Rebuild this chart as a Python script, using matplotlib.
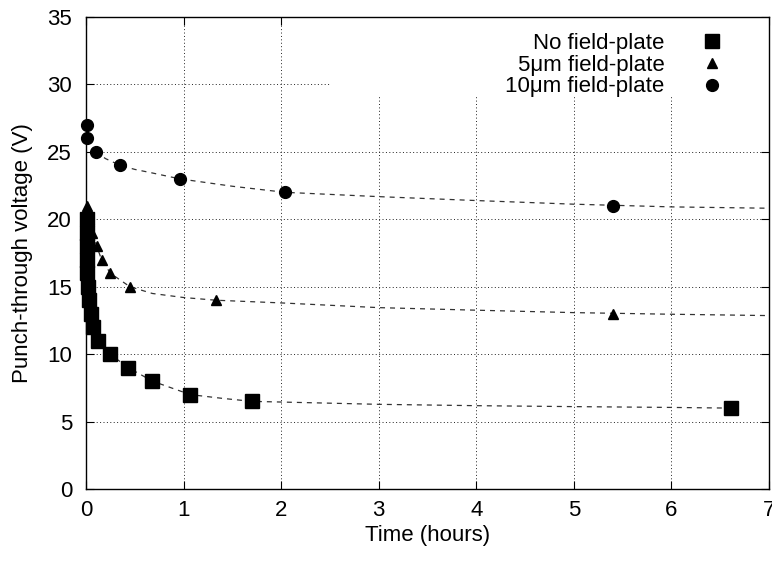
import matplotlib
matplotlib.use("Agg")
import matplotlib.pyplot as plt
from matplotlib.patches import Rectangle

plt.rcParams['font.family'] = ['Liberation Sans', 'DejaVu Sans']

# Measured punch-through voltage vs. stress time
t_none = [0.010, 0.011, 0.012, 0.013, 0.015, 0.024, 0.034, 0.048, 0.068,
          0.126, 0.246, 0.434, 0.68, 1.07, 1.70, 6.61]
v_none = [20, 19, 18, 17, 16, 15, 14, 13, 12, 11, 10, 9, 8, 7, 6.5, 6]

t_fp5 = [0.010, 0.030, 0.065, 0.11, 0.16, 0.25, 0.45, 1.33, 5.40]
v_fp5 = [21, 20, 19, 18, 17, 16, 15, 14, 13]

t_fp10 = [0.010, 0.012, 0.10, 0.35, 0.96, 2.04, 5.40]
v_fp10 = [27, 26, 25, 24, 23, 22, 21]

# Fitted trend curves
fit_t_none = [0.068, 0.126, 0.246, 0.434, 0.68, 1.07, 1.4, 1.70, 2.0, 3, 4, 5, 6, 6.61]
fit_v_none = [12, 11, 10, 9, 8, 7, 6.72, 6.5, 6.45, 6.28, 6.18, 6.11, 6.05, 6.0]

fit_t_fp5 = [0.065, 0.11, 0.16, 0.25, 0.45, 0.68, 1.0, 1.33, 2.0, 3, 4, 5, 6, 7]
fit_v_fp5 = [19, 18, 17, 16, 15, 14.5, 14.2, 14.0, 13.8, 13.45, 13.26, 13.08, 12.96, 12.86]

fit_t_fp10 = [0.10, 0.2, 0.35, 0.5, 0.67, 0.96, 1.5, 2.04, 3, 4, 5, 6, 7]
fit_v_fp10 = [25.0, 24.5, 24.0, 23.7, 23.45, 23.0, 22.45, 22.0, 21.68, 21.39, 21.12, 20.92, 20.82]

fs = 16

fig = plt.figure(figsize=(7.72, 5.61), dpi=100)
ax = fig.add_axes([0.1114, 0.1283, 0.8847, 0.8414])

ax.grid(True, color='#222222', linestyle=(0, (1, 2.5)), linewidth=0.7)
ax.set_axisbelow(True)

# white key area over the grid
ax.add_patch(Rectangle((0.357, 0.8305), 0.643, 0.1695, transform=ax.transAxes,
                       facecolor='white', edgecolor='none', zorder=1.5))

dash = (0, (4, 4))
ax.plot(fit_t_none, fit_v_none, color='#333333', lw=0.9, ls=dash, zorder=2)
ax.plot(fit_t_fp5, fit_v_fp5, color='#333333', lw=0.9, ls=dash, zorder=2)
ax.plot(fit_t_fp10, fit_v_fp10, color='#333333', lw=0.9, ls=dash, zorder=2)

h1, = ax.plot(t_none, v_none, 's', color='black', ms=9.5, ls='none', zorder=3,
              clip_on=False, label='No field-plate')
h2, = ax.plot(t_fp5, v_fp5, '^', color='black', ms=7.5, ls='none', zorder=3,
              clip_on=False, label='5\u03bcm field-plate')
h3, = ax.plot(t_fp10, v_fp10, 'o', color='black', ms=8.5, ls='none', zorder=3,
              clip_on=False, label='10\u03bcm field-plate')

ax.set_xlim(0, 7)
ax.set_ylim(0, 35)
ax.set_xticks(range(0, 8))
ax.set_yticks(range(0, 36, 5))
ax.tick_params(direction='in', length=6, width=0.8, top=True, right=True,
               labelsize=fs)
ax.tick_params(axis='y', pad=10)
ax.tick_params(axis='x', pad=8)
for s in ax.spines.values():
    s.set_linewidth(1.0)

ax.set_xlabel('Time (hours)', fontsize=fs, labelpad=3)
ax.set_ylabel('Punch-through voltage (V)', fontsize=fs, labelpad=10)

ax.legend(handles=[h1, h2, h3], loc='upper right', bbox_to_anchor=(0.9334, 0.966),
          markerfirst=False, frameon=False, fontsize=fs, handlelength=1.0,
          handletextpad=1.66, labelspacing=0.03, borderpad=0, borderaxespad=0)

fig.savefig('out.png', dpi=100)
